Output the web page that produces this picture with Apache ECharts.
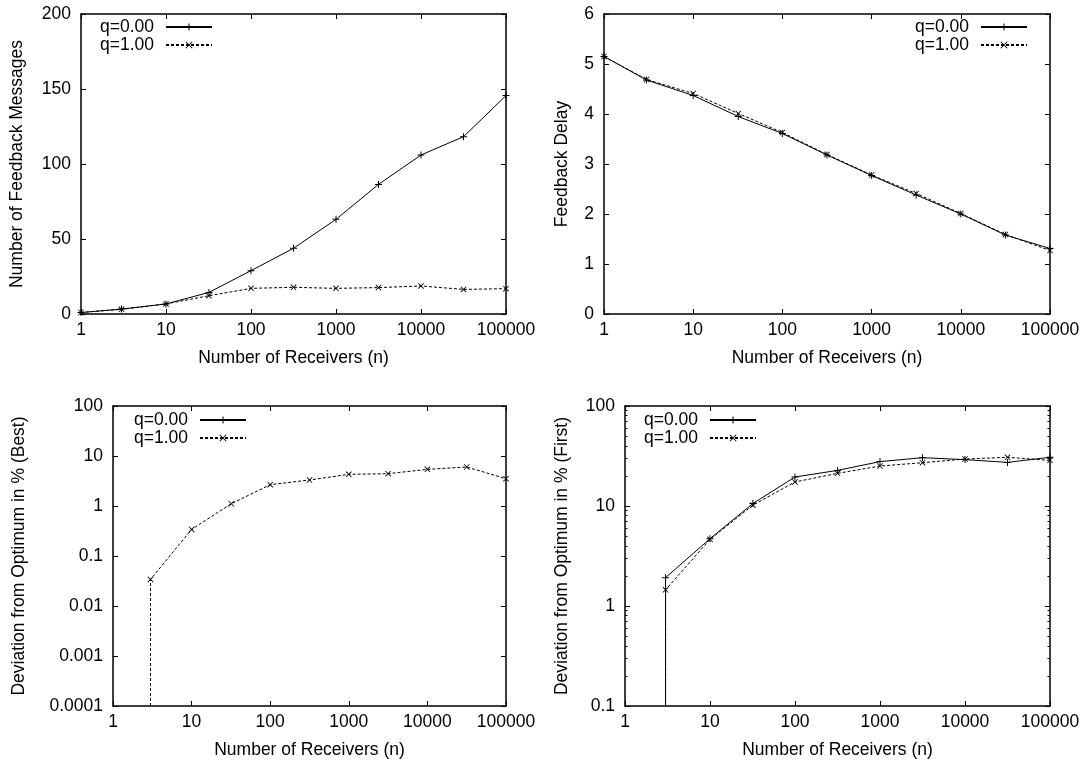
<!DOCTYPE html>
<html>
<head>
<meta charset="utf-8">
<script src="https://cdn.jsdelivr.net/npm/echarts@6/dist/echarts.min.js"></script>
<style>
  html, body { margin: 0; padding: 0; background: #fff; }
  #chart { width: 1087px; height: 766px; }
</style>
</head>
<body>
<div id="chart"></div>
<script>
// Receiver counts (x) shared by all four panels
const nReceivers = [1, 3, 10, 32, 100, 316, 1000, 3162, 10000, 31623, 100000];
const seriesNames = ['q=0.00', 'q=1.00'];

// Number of feedback messages
const msgsQ0 = [1, 3.3, 6.7, 14.4, 28.9, 43.8, 63.1, 86.4, 106, 118.2, 145.6];
const msgsQ1 = [1, 3.1, 6.7, 12.2, 17.1, 17.8, 17.1, 17.6, 18.7, 16.4, 16.9];

// Feedback delay
const delayQ0 = [5.15, 4.68, 4.37, 3.95, 3.61, 3.18, 2.77, 2.38, 2.00, 1.58, 1.31];
const delayQ1 = [5.15, 4.69, 4.41, 4.01, 3.63, 3.19, 2.78, 2.41, 2.01, 1.59, 1.27];

// Deviation from optimum in % (best)
const bestQ0 = [0, 0, 0, 0, 0, 0, 0, 0, 0, 0, 0];
const bestQ1 = [0, 0.034, 0.34, 1.11, 2.67, 3.31, 4.3, 4.43, 5.41, 6.03, 3.52];

// Deviation from optimum in % (first)
const firstQ0 = [0, 1.92, 4.71, 10.6, 19.5, 22.7, 27.8, 30.4, 29.1, 27.3, 30.7];
const firstQ1 = [0, 1.45, 4.64, 10.2, 17.4, 21.2, 25.1, 27.1, 29.5, 30.7, 28.6];

// Tick values and their labels
const xTickValues = [1, 10, 100, 1000, 10000, 100000];
const xTickLabels = ['1', '10', '100', '1000', '10000', '100000'];
const msgTickValues = [0, 50, 100, 150, 200];
const msgTickLabels = ['0', '50', '100', '150', '200'];
const delayTickValues = [0, 1, 2, 3, 4, 5, 6];
const delayTickLabels = ['0', '1', '2', '3', '4', '5', '6'];
const bestTickValues = [0.0001, 0.001, 0.01, 0.1, 1, 10, 100];
const bestTickLabels = ['0.0001', '0.001', '0.01', '0.1', '1', '10', '100'];
const firstTickValues = [0.1, 1, 10, 100];
const firstTickLabels = ['0.1', '1', '10', '100'];

const FONT = 'Liberation Sans, Arial, Helvetica, sans-serif';
const FONT_SIZE = 17.5;
const INK = '#000';
// A value far below any log axis minimum; the line running to it gets clipped at the frame
const LOG_FLOOR = 1e-12;

const plusPath = 'path://M0 4.3H10V5.7H0Z M4.3 0H5.7V10H4.3Z';
const crossPath = 'path://M0 1L1 0L10 9L9 10Z M9 0L10 1L1 10L0 9Z';

function labeler(values, labels) {
  return function (v) {
    for (let i = 0; i < values.length; i++) {
      if (Math.abs(values[i] - v) <= Math.abs(values[i]) * 1e-6 + 1e-12) return labels[i];
    }
    return '';
  };
}

// Pairs x with y. On a log axis a zero cannot be placed: a zero followed by a
// positive value is drawn as a drop straight down off the frame at the next x.
function pairs(ys, logY) {
  const out = [];
  for (let i = 0; i < nReceivers.length; i++) {
    if (!logY || ys[i] > 0) {
      out.push([nReceivers[i], ys[i]]);
    } else if (i + 1 < ys.length && ys[i + 1] > 0) {
      out.push({ value: [nReceivers[i + 1], LOG_FLOOR], symbol: 'none' });
    }
  }
  return out;
}

const panels = [
  {
    grid: { left: 81, right: 581, top: 14, bottom: 452 },
    yLog: false, yMin: 0, yMax: 200, yInterval: 50,
    yTicks: msgTickValues, yLabels: msgTickLabels,
    yName: 'Number of Feedback Messages', yNameGap: 55,
    data: [msgsQ0, msgsQ1], minor: false,
    legend: { left: 100, top: 18 }
  },
  {
    grid: { left: 604, right: 37, top: 14, bottom: 452 },
    yLog: false, yMin: 0, yMax: 6, yInterval: 1,
    yTicks: delayTickValues, yLabels: delayTickLabels,
    yName: 'Feedback Delay', yNameGap: 33,
    data: [delayQ0, delayQ1], minor: false,
    legend: { right: 59, top: 18 }
  },
  {
    grid: { left: 113, right: 581, top: 406, bottom: 60 },
    yLog: true, yMin: 0.0001, yMax: 100,
    yTicks: bestTickValues, yLabels: bestTickLabels,
    yName: 'Deviation from Optimum in % (Best)', yNameGap: 85,
    data: [bestQ0, bestQ1], minor: false,
    legend: { left: 134, top: 411 }
  },
  {
    grid: { left: 625, right: 37, top: 406, bottom: 60 },
    yLog: true, yMin: 0.1, yMax: 100,
    yTicks: firstTickValues, yLabels: firstTickLabels,
    yName: 'Deviation from Optimum in % (First)', yNameGap: 54,
    data: [firstQ0, firstQ1], minor: true,
    legend: { left: 644, top: 411 }
  }
];

const axisLine = { show: true, onZero: false, lineStyle: { color: INK, width: 1.5 } };
const tickStyle = { show: true, inside: true, length: 5, lineStyle: { color: INK, width: 1 } };
const textBase = { fontFamily: FONT, fontSize: FONT_SIZE, color: INK };

const grids = [], xAxes = [], yAxes = [], series = [], legends = [];

panels.forEach((p, i) => {
  grids.push(Object.assign({ outerBoundsMode: 'none', containLabel: false }, p.grid));

  const xBase = {
    type: 'log', logBase: 10, min: 1, max: 100000, gridIndex: i,
    splitNumber: 10, axisLine: axisLine, axisTick: tickStyle,
    splitLine: { show: false }, minorTick: { show: false }
  };
  xAxes[i] = Object.assign({}, xBase, {
    position: 'bottom',
    name: 'Number of Receivers (n)', nameLocation: 'middle', nameGap: 35,
    nameTextStyle: textBase,
    axisLabel: Object.assign({ margin: 7, showMinLabel: true, showMaxLabel: true,
      formatter: labeler(xTickValues, xTickLabels) }, textBase)
  });
  xAxes[i + 4] = Object.assign({}, xBase, { position: 'top', axisLabel: { show: false } });

  const yBase = p.yLog
    ? { type: 'log', logBase: 10, min: p.yMin, max: p.yMax, splitNumber: 10 }
    : { type: 'value', min: p.yMin, max: p.yMax, interval: p.yInterval };
  Object.assign(yBase, {
    gridIndex: i, axisLine: axisLine, axisTick: tickStyle,
    splitLine: { show: false },
    minorTick: p.minor
      ? { show: true, splitNumber: 9, length: 2.5, lineStyle: { color: INK, width: 1 } }
      : { show: false }
  });
  yAxes[i] = Object.assign({}, yBase, {
    position: 'left',
    name: p.yName, nameLocation: 'middle', nameGap: p.yNameGap,
    nameTextStyle: textBase,
    axisLabel: Object.assign({ margin: 10, showMinLabel: true, showMaxLabel: true,
      formatter: labeler(p.yTicks, p.yLabels) }, textBase)
  });
  yAxes[i + 4] = Object.assign({}, yBase, { position: 'right', axisLabel: { show: false } });

  p.data.forEach((ys, k) => {
    series.push({
      name: seriesNames[k],
      type: 'line',
      xAxisIndex: i,
      yAxisIndex: i,
      data: pairs(ys, p.yLog),
      clip: true,
      symbol: k === 0 ? plusPath : crossPath,
      symbolSize: k === 0 ? 7 : 6,
      showSymbol: true,
      itemStyle: { color: INK, borderWidth: 0 },
      lineStyle: { color: INK, width: 1, type: k === 0 ? 'solid' : [3, 2] },
      emphasis: { disabled: true },
      silent: true,
      z: 3 - k
    });
  });

  legends.push(Object.assign({
    data: seriesNames,
    orient: 'vertical',
    align: 'right',
    itemWidth: 46,
    itemHeight: 9,
    itemGap: 0,
    padding: 0,
    selectedMode: false,
    textStyle: Object.assign({ padding: [0, 7, 0, 0] }, textBase)
  }, p.legend));
});

const chart = echarts.init(document.getElementById('chart'), null, { renderer: 'canvas' });
chart.setOption({
  animation: false,
  backgroundColor: '#fff',
  textStyle: { fontFamily: FONT },
  grid: grids,
  xAxis: xAxes,
  yAxis: yAxes,
  legend: legends,
  series: series
});
</script>
</body>
</html>
